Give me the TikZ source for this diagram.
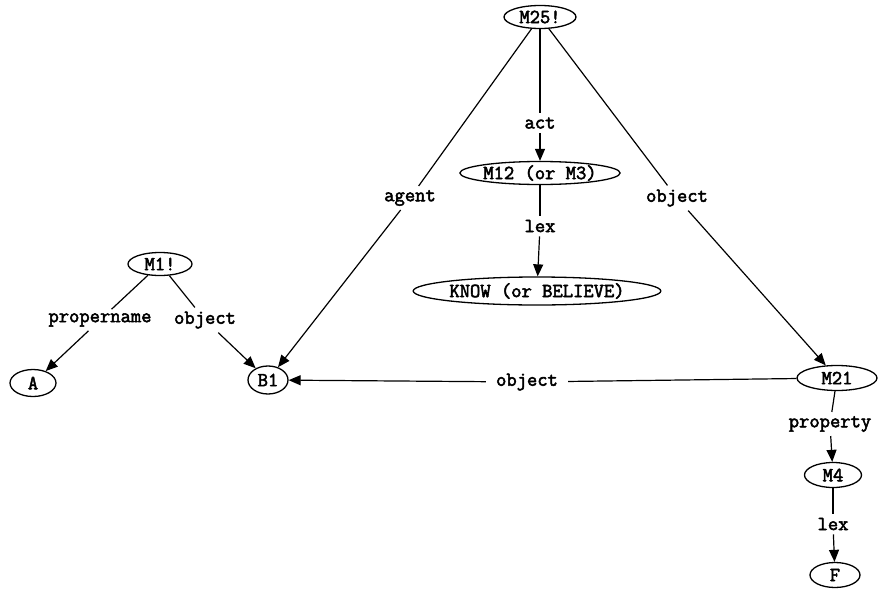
\documentclass[tikz,border=0pt]{standalone}
\usepackage{fontspec}
\newfontfamily\netfont{Latin Modern Mono}[FakeBold=2.6]
\usetikzlibrary{shapes.geometric,arrows.meta}
\tikzset{
  lbl/.style={font=\netfont\fontsize{20}{20}\selectfont},
  net/.style={lbl, ellipse, draw, line width=1.3pt, inner sep=0pt},
  arc/.style={lbl, fill=white, inner sep=4pt},
  link/.style={line width=1.2pt},
  tolink/.style={line width=1.2pt, -{Triangle[length=12pt,width=10pt]}}
}
\begin{document}
\begin{tikzpicture}[x=1pt,y=-1pt]
\useasboundingbox (0,0) rectangle (878,589);
% propositional nodes and base nodes
\node[net, minimum width=72pt, minimum height=23pt] (m25) at (540,17) {M25!};
\node[net, minimum width=150pt, minimum height=23pt] (m12) at (540,173) {M12 (or M3)};
\node[net, minimum width=220pt, minimum height=28pt] (know) at (537,291) {KNOW (or BELIEVE)};
\node[net, minimum width=64pt, minimum height=23pt] (m1) at (160,264) {M1!};
\node[net, minimum width=46pt, minimum height=27pt] (a) at (33,383) {A};
\node[net, minimum width=40pt, minimum height=28pt] (b1) at (268,380) {B1};
\node[net, minimum width=80pt, minimum height=25pt] (m21) at (837,378) {M21};
\node[net, minimum width=57pt, minimum height=25pt] (m4) at (833,475) {M4};
\node[net, minimum width=50pt, minimum height=25pt] (f) at (835,575) {F};
% arc labels
\node[arc] (act) at (540,123) {act};
\node[arc] (lex1) at (540,226) {lex};
\node[arc] (agent) at (410,198) {agent};
\node[arc] (obj1) at (677,198) {object};
\node[arc] (pname) at (100,320) {propername};
\node[arc] (obj2) at (205,320) {object};
\node[arc, inner sep=10pt] (obj3) at (527,382) {object};
\node[arc] (prop) at (830,424) {property};
\node[arc] (lex2) at (833,524) {lex};
% arcs
\draw[link] (m25) -- (act);   \draw[tolink] (act) -- (m12);
\draw[link] (m12) -- (lex1);  \draw[tolink] (lex1) -- (know);
\draw[link] (m25) -- (agent); \draw[tolink] (agent) -- (b1);
\draw[link] (m25) -- (obj1);  \draw[tolink] (obj1) -- (m21);
\draw[link] (m1) -- (pname);  \draw[tolink] (pname) -- (a);
\draw[link] (m1) -- (obj2);   \draw[tolink] (obj2) -- (b1);
\draw[link] (m21) -- (obj3);  \draw[tolink] (obj3) -- (b1);
\draw[link] (m21) -- (prop);  \draw[tolink] (prop) -- (m4);
\draw[link] (m4) -- (lex2);   \draw[tolink] (lex2) -- (f);
\end{tikzpicture}
\end{document}
